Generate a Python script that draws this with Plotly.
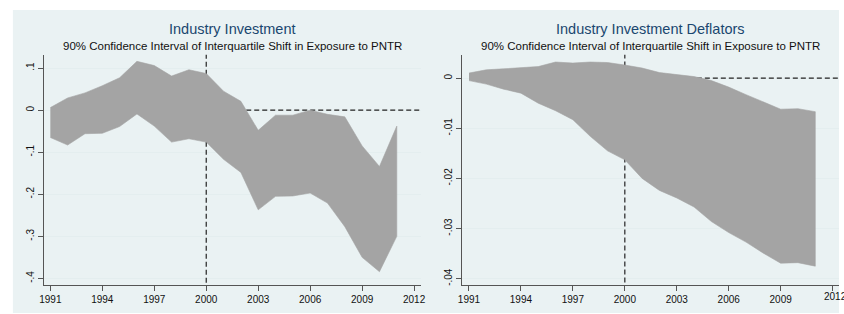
import plotly.graph_objects as go

YEARS = list(range(1991, 2012))

# Left panel: Industry Investment (90% CI bounds)
INV_UPPER = [0.006, 0.029, 0.041, 0.058, 0.077, 0.116, 0.106, 0.081, 0.096, 0.087,
             0.045, 0.021, -0.048, -0.012, -0.012, 0.000, -0.010, -0.016, -0.085, -0.134, -0.038]
INV_LOWER = [-0.065, -0.083, -0.056, -0.055, -0.039, -0.009, -0.038, -0.076, -0.068, -0.076,
             -0.117, -0.148, -0.237, -0.205, -0.204, -0.197, -0.221, -0.277, -0.350, -0.384, -0.300]

# Right panel: Industry Investment Deflators (90% CI bounds)
DEF_UPPER = [0.0010, 0.00165, 0.00185, 0.0021, 0.0023, 0.0032, 0.0030, 0.0032, 0.0031, 0.0026,
             0.0020, 0.0011, 0.0007, 0.0003, -0.0005, -0.0018, -0.0033, -0.0047, -0.0062, -0.0061, -0.0067]
DEF_LOWER = [-0.0005, -0.0012, -0.0022, -0.0030, -0.0050, -0.0065, -0.0083, -0.0116, -0.0145, -0.0163,
             -0.0200, -0.0224, -0.0239, -0.0257, -0.0286, -0.0308, -0.0327, -0.0349, -0.0369, -0.0368, -0.0375]

X_TICKS = [1991, 1994, 1997, 2000, 2003, 2006, 2009, 2012]
INV_YTICKS = [0.1, 0.0, -0.1, -0.2, -0.3, -0.4]
INV_YTEXT = [".1", "0", "-.1", "-.2", "-.3", "-.4"]
DEF_YTICKS = [0.0, -0.01, -0.02, -0.03, -0.04]
DEF_YTEXT = ["0", "-.01", "-.02", "-.03", "-.04"]

REF_YEAR = 2000
REF_Y = 0.0
X_END = 2012.37

TITLES = ["Industry Investment", "Industry Investment Deflators"]
SUBTITLE = "90% Confidence Interval of Interquartile Shift in Exposure to PNTR"

W, H = 844, 314
BG = "#EAF2F3"
FILL = "#A4A4A4"
FONT = "Liberation Sans, Arial, Helvetica, sans-serif"
TICK_SIZE = 10

fig = go.Figure()

panels = [
    ("x", "y", INV_UPPER, INV_LOWER),
    ("x2", "y2", DEF_UPPER, DEF_LOWER),
]
for xa, ya, up, lo in panels:
    # reference lines (drawn under the band)
    fig.add_trace(go.Scatter(x=[REF_YEAR, REF_YEAR], y=[-1, 1], mode="lines",
                             line=dict(color="#222222", width=1.2, dash="5px,3px"),
                             xaxis=xa, yaxis=ya, showlegend=False, hoverinfo="skip"))
    fig.add_trace(go.Scatter(x=[REF_YEAR, X_END + 1], y=[REF_Y, REF_Y], mode="lines",
                             line=dict(color="#222222", width=1.2, dash="5px,3px"),
                             xaxis=xa, yaxis=ya, showlegend=False, hoverinfo="skip"))
    fig.add_trace(go.Scatter(x=YEARS + YEARS[::-1], y=up + lo[::-1], mode="lines",
                             fill="toself", fillcolor=FILL,
                             line=dict(color=FILL, width=0.6),
                             xaxis=xa, yaxis=ya, showlegend=False))

def px_x(p):
    return p / W

def px_y(p):
    return (H - p) / H

ydom = [px_y(286), px_y(55)]

axis_common = dict(showline=True, linecolor="#555555", linewidth=1,
                   ticks="outside", ticklen=5, tickcolor="#555555", tickwidth=1,
                   tickfont=dict(size=TICK_SIZE, color="#111111", family=FONT),
                   zeroline=False, mirror=False)

fig.update_layout(
    width=W, height=H,
    margin=dict(l=0, r=0, t=0, b=0),
    paper_bgcolor="white", plot_bgcolor="white",
    font=dict(family=FONT),
    xaxis=dict(domain=[px_x(40), px_x(421)], range=[1990.61, X_END],
               tickvals=X_TICKS, showgrid=False, anchor="y", **axis_common),
    yaxis=dict(domain=ydom, range=[-0.4159, 0.1315], tickvals=INV_YTICKS, ticktext=INV_YTEXT,
               tickangle=-90, showgrid=True, gridcolor="#E4EEEF", gridwidth=1,
               anchor="x", **axis_common),
    xaxis2=dict(domain=[px_x(463), 1.0], range=[1990.60, X_END],
                tickvals=X_TICKS, showgrid=False, anchor="y2", **axis_common),
    yaxis2=dict(domain=ydom, range=[-0.04127, 0.00464], tickvals=DEF_YTICKS, ticktext=DEF_YTEXT,
                tickangle=-90, showgrid=True, gridcolor="#E4EEEF", gridwidth=1,
                anchor="x2", **axis_common),
    shapes=[dict(type="rect", xref="paper", yref="paper",
                 x0=px_x(9), x1=1.0, y0=0, y1=px_y(10),
                 fillcolor=BG, line=dict(width=0), layer="below")],
)

centers = [(40 + 421) / 2, (463 + 844) / 2]
for cx, t in zip(centers, TITLES):
    fig.add_annotation(text=t, x=px_x(cx), y=px_y(29), xref="paper", yref="paper",
                       showarrow=False, xanchor="center", yanchor="middle",
                       font=dict(size=14.5, color="#1A476F", family=FONT))
    fig.add_annotation(text=SUBTITLE, x=px_x(cx), y=px_y(46.5), xref="paper", yref="paper",
                       showarrow=False, xanchor="center", yanchor="middle",
                       font=dict(size=11.5, color="#111111", family=FONT))

# last x tick label of the right panel, cut by the page edge as in the original
fig.add_annotation(text=str(X_TICKS[-1]), x=X_TICKS[-1], xref="x2", y=px_y(297), yref="paper",
                   showarrow=False, xanchor="left", xshift=-11, yanchor="middle",
                   font=dict(size=TICK_SIZE, color="#111111", family=FONT))

fig.write_html("out.html", config={"displayModeBar": False},
               post_script="document.body.style.margin='0px';")
